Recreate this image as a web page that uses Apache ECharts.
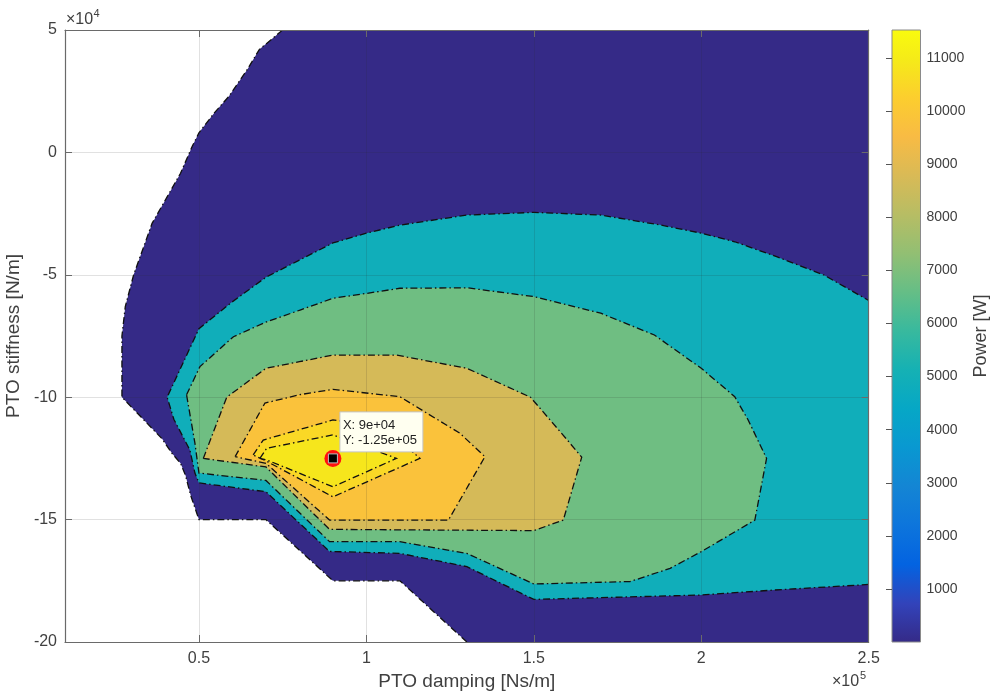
<!DOCTYPE html>
<html>
<head>
<meta charset="utf-8">
<script src="https://cdn.jsdelivr.net/npm/echarts@6/dist/echarts.min.js"></script>
<style>
  html, body { margin: 0; padding: 0; background: #ffffff; }
  #chart { width: 990px; height: 693px; }
</style>
</head>
<body>
<div id="chart"></div>
<script>
// ---- axes ----
const dampingRange = [10000, 250000];          // PTO damping [Ns/m]
const stiffnessRange = [-200000, 50000];       // PTO stiffness [N/m]
const powerRange = [0, 11530];                 // Power [W]
const dampingTicks = [50000, 100000, 150000, 200000, 250000];
const stiffnessTicks = [50000, 0, -50000, -100000, -150000, -200000];
const powerTicks = [1000, 2000, 3000, 4000, 5000, 6000, 7000, 8000, 9000, 10000, 11000];

// ---- filled contours: level [W] and outline of the area above it, [damping, stiffness] ----
const powerLevels = [0, 4900, 6750, 8700, 9800, 10500, 10850];

const region0 = [[75000, 50000], [250000, 50000], [250000, -200000], [130000, -200000], [110000, -175000],
  [90000, -175000], [70000, -150000], [50000, -150000], [47500, -140000], [46000, -132000], [44500, -127000],
  [42000, -123000], [39000, -117000], [27000, -100000], [27000, -75000], [28000, -63000], [30500, -50000],
  [36000, -29000], [44500, -8500], [48000, 2500], [50000, 8000], [54500, 16000], [59000, 23000],
  [64500, 34000], [68000, 42000]];

const region1 = [[40500, -100000], [50000, -72000], [59500, -61500], [70000, -51000], [80000, -44000],
  [90000, -37000], [100000, -33000], [110000, -29700], [130000, -25600], [150000, -24500], [170000, -25600],
  [188000, -29700], [200000, -33000], [210000, -36500], [222500, -42600], [236500, -50000], [250000, -60500],
  [250000, -176500], [221500, -178800], [200000, -180800], [150000, -182600], [130000, -169200],
  [110000, -163800], [89000, -163000], [70000, -138600], [50000, -135000], [48800, -131000],
  [47300, -121600], [42500, -109000]];

const region2 = [[46300, -99000], [50300, -87500], [60300, -75300], [70200, -69200], [80200, -64400],
  [90000, -59600], [100000, -57600], [110000, -55500], [130000, -55300], [150000, -58900], [170000, -65700],
  [186000, -74600], [200000, -88200], [210000, -99800], [214000, -109300], [219500, -125000],
  [216000, -150200], [200000, -163100], [190700, -169900], [181700, -174000], [178700, -175300],
  [150000, -176300], [130000, -163800], [110000, -159000], [89000, -159000], [70000, -134000],
  [50000, -131000], [48800, -118800]];

const region3 = [[51300, -125000], [58300, -100000], [70000, -88200], [80000, -85500], [90000, -82800],
  [109000, -82800], [130000, -88200], [149000, -100000], [160000, -117500], [164300, -124500],
  [158800, -150200], [150000, -154500], [89000, -154000], [70000, -128500]];

const region4 = [[60800, -124300], [69700, -102400], [80000, -99000], [90000, -96800], [110000, -99800],
  [127900, -114700], [135400, -124300], [124500, -150200], [89000, -150200], [70000, -127000]];

const region5 = [[66200, -123600], [69200, -117500], [90000, -109300], [105000, -112000], [116000, -125000],
  [90000, -140700], [70000, -126000]];

const region6 = [[68200, -125000], [70200, -120900], [90000, -115400], [109000, -125000], [90000, -136600],
  [70000, -125500]];

const contourRegions = [region0, region1, region2, region3, region4, region5, region6];

// ---- marked optimum ----
const peakPoint = [90000, -125000];

// parula colormap stops
const parula = [
  [0 / 63, '#352A87'], [4 / 63, '#3243BA'], [8 / 63, '#0363E1'], [12 / 63, '#0D75DC'],
  [16 / 63, '#1485D4'], [20 / 63, '#0998D1'], [24 / 63, '#06A7C6'], [28 / 63, '#15B1B4'],
  [32 / 63, '#38B99E'], [36 / 63, '#65BE86'], [40 / 63, '#92BF73'], [44 / 63, '#B7BD64'],
  [48 / 63, '#D9BA56'], [52 / 63, '#F8BB44'], [56 / 63, '#FCCE2E'], [60 / 63, '#F5EB18'],
  [63 / 63, '#F9FB0E']
];

function hexRgb(h) {
  return [parseInt(h.slice(1, 3), 16), parseInt(h.slice(3, 5), 16), parseInt(h.slice(5, 7), 16)];
}
function parulaColor(value) {
  let t = (value - powerRange[0]) / (powerRange[1] - powerRange[0]);
  t = Math.max(0, Math.min(1, t));
  for (let i = 1; i < parula.length; i++) {
    if (t <= parula[i][0]) {
      const f = (t - parula[i - 1][0]) / (parula[i][0] - parula[i - 1][0]);
      const a = hexRgb(parula[i - 1][1]), b = hexRgb(parula[i][1]);
      const c = a.map((v, k) => Math.round(v + (b[k] - v) * f));
      return 'rgb(' + c.join(',') + ')';
    }
  }
  return parula[parula.length - 1][1];
}

// an outline edge lying on the plot frame is not a contour line
function onFrame(a, b) {
  if (a[0] === b[0] && (a[0] === dampingRange[0] || a[0] === dampingRange[1])) return true;
  if (a[1] === b[1] && (a[1] === stiffnessRange[0] || a[1] === stiffnessRange[1])) return true;
  return false;
}

const dashDot = [7, 3, 1.5, 3];

function renderContour(params, api) {
  const poly = contourRegions[params.dataIndex];
  const level = powerLevels[params.dataIndex];
  const pts = poly.map(p => api.coord(p));
  const children = [{
    type: 'polygon',
    shape: { points: pts },
    style: { fill: parulaColor(level), stroke: null }
  }];
  const n = poly.length;
  const start = poly.findIndex((p, i) => onFrame(p, poly[(i + 1) % n]));
  const runs = [];
  if (start < 0) {
    runs.push(pts.concat([pts[0]]));
  } else {
    let cur = null;
    for (let k = 1; k <= n; k++) {
      const i = (start + k) % n;
      const a = poly[i], b = poly[(i + 1) % n];
      if (onFrame(a, b)) {
        if (cur) { runs.push(cur); cur = null; }
      } else {
        if (!cur) cur = [api.coord(a)];
        cur.push(api.coord(b));
      }
    }
    if (cur) runs.push(cur);
  }
  runs.forEach(r => children.push({
    type: 'polyline',
    shape: { points: r },
    style: { fill: null, stroke: '#111111', lineWidth: 1.3, lineDash: dashDot }
  }));
  return { type: 'group', children: children };
}

function expLabel(v) {
  return v.toExponential().replace(/e([+-])(\d)$/, 'e$10$2');
}

function renderTip(params, api) {
  const x = api.value(0), y = api.value(1);
  const c = api.coord([x, y]);
  const font = '13px "Liberation Sans", Arial, sans-serif';
  return {
    type: 'group',
    children: [
      { type: 'circle', shape: { cx: c[0], cy: c[1], r: 8.5 }, style: { fill: '#ff1010' } },
      { type: 'rect', shape: { x: c[0] - 4.5, y: c[1] - 4.5, width: 9, height: 9 },
        style: { fill: '#000000', stroke: '#bdbdbd', lineWidth: 1 } },
      { type: 'rect', shape: { x: c[0] + 7, y: c[1] - 46.5, width: 83, height: 40 },
        style: { fill: '#fffff0', stroke: '#c4c4c4', lineWidth: 1 } },
      { type: 'text', x: c[0] + 10, y: c[1] - 33,
        style: { text: 'X: ' + expLabel(x), font: font, fill: '#222222', align: 'left', verticalAlign: 'middle' } },
      { type: 'text', x: c[0] + 10, y: c[1] - 18,
        style: { text: 'Y: ' + expLabel(y), font: font, fill: '#222222', align: 'left', verticalAlign: 'middle' } }
    ]
  };
}

function renderColorbar(params, api) {
  const p0 = api.coord([0, powerRange[1]]);
  const p1 = api.coord([1, powerRange[0]]);
  return {
    type: 'rect',
    shape: { x: p0[0], y: p0[1], width: p1[0] - p0[0], height: p1[1] - p0[1] },
    style: {
      fill: new echarts.graphic.LinearGradient(0, 1, 0, 0,
        parula.map(s => ({ offset: s[0], color: s[1] }))),
      stroke: '#8a8a8a', lineWidth: 1
    }
  };
}

const FONT = '"Liberation Sans", Arial, Helvetica, sans-serif';
const TXT = '#404040';
const AXIS = '#6a6a6a';

const chart = echarts.init(document.getElementById('chart'), null, { renderer: 'canvas' });

chart.setOption({
  animation: false,
  backgroundColor: '#ffffff',
  textStyle: { fontFamily: FONT },
  grid: [
    { left: 65, top: 30, right: 121.3, bottom: 51, containLabel: false, outerBoundsMode: 'none' },
    { left: 892, top: 30, width: 28.5, bottom: 51, containLabel: false, outerBoundsMode: 'none' }
  ],
  xAxis: [
    {
      gridIndex: 0, type: 'value', min: dampingRange[0], max: dampingRange[1], position: 'bottom', z: 10,
      axisLine: { show: true, onZero: false, lineStyle: { color: AXIS, width: 1.2 } },
      axisTick: { show: true, inside: true, length: 7, customValues: dampingTicks, lineStyle: { color: AXIS } },
      axisLabel: { customValues: dampingTicks, fontSize: 16, color: TXT, margin: 9,
        formatter: v => String(+(v / 1e5).toFixed(2)) },
      splitLine: { show: false },
      name: 'PTO damping [Ns/m]', nameLocation: 'middle', nameGap: 27,
      nameTextStyle: { fontSize: 19, color: TXT }
    },
    {
      gridIndex: 0, type: 'value', min: dampingRange[0], max: dampingRange[1], position: 'top', z: 10,
      axisLine: { show: true, onZero: false, lineStyle: { color: AXIS, width: 1.2 } },
      axisTick: { show: true, inside: true, length: 7, customValues: dampingTicks, lineStyle: { color: AXIS } },
      axisLabel: { show: false },
      splitLine: { show: false }
    },
    { gridIndex: 1, type: 'value', min: 0, max: 1, show: false }
  ],
  yAxis: [
    {
      gridIndex: 0, type: 'value', min: stiffnessRange[0], max: stiffnessRange[1], interval: 50000,
      position: 'left', z: 10,
      axisLine: { show: true, onZero: false, lineStyle: { color: AXIS, width: 1.2 } },
      axisTick: { show: true, inside: true, length: 7, lineStyle: { color: AXIS } },
      axisLabel: { fontSize: 16, color: TXT, margin: 8, formatter: v => String(v / 1e4) },
      splitLine: { show: false },
      name: 'PTO stiffness [N/m]', nameLocation: 'middle', nameGap: 33, nameRotate: 90,
      nameTextStyle: { fontSize: 19, color: TXT }
    },
    {
      gridIndex: 0, type: 'value', min: stiffnessRange[0], max: stiffnessRange[1], interval: 50000,
      position: 'right', z: 10,
      axisLine: { show: true, onZero: false, lineStyle: { color: AXIS, width: 1.2 } },
      axisTick: { show: true, inside: true, length: 7, lineStyle: { color: AXIS } },
      axisLabel: { show: false },
      splitLine: { show: false }
    },
    {
      gridIndex: 1, type: 'value', min: powerRange[0], max: powerRange[1], position: 'right', z: 10,
      axisLine: { show: false },
      axisTick: { show: true, inside: true, length: 6, customValues: powerTicks, lineStyle: { color: '#555555' } },
      axisLabel: { customValues: powerTicks, fontSize: 14, color: TXT, margin: 6, formatter: v => String(v) },
      splitLine: { show: false },
      name: 'Power [W]', nameLocation: 'middle', nameGap: 52, nameRotate: 90,
      nameTextStyle: { fontSize: 18, color: TXT }
    }
  ],
  graphic: [
    { type: 'text', x: 66, y: 20, style: { text: '×10', font: '16px ' + FONT, fill: TXT, align: 'left', verticalAlign: 'middle' } },
    { type: 'text', x: 93.5, y: 14, style: { text: '4', font: '11px ' + FONT, fill: TXT, align: 'left', verticalAlign: 'middle' } },
    { type: 'text', x: 832, y: 682, style: { text: '×10', font: '16px ' + FONT, fill: TXT, align: 'left', verticalAlign: 'middle' } },
    { type: 'text', x: 860, y: 676, style: { text: '5', font: '11px ' + FONT, fill: TXT, align: 'left', verticalAlign: 'middle' } }
  ],
  series: [
    {
      type: 'custom', name: 'Power', xAxisIndex: 0, yAxisIndex: 0, z: 2, clip: true,
      renderItem: renderContour,
      data: contourRegions.map((r, i) => ({ value: [r[0][0], r[0][1], powerLevels[i]] })),
      markLine: {
        silent: true, symbol: ['none', 'none'], z: 5, animation: false,
        label: { show: false },
        lineStyle: { color: 'rgba(40,40,40,0.14)', width: 1, type: 'solid' },
        data: dampingTicks.map(v => ({ xAxis: v })).concat(stiffnessTicks.map(v => ({ yAxis: v })))
      }
    },
    {
      type: 'custom', name: 'Optimum', xAxisIndex: 0, yAxisIndex: 0, z: 20,
      renderItem: renderTip,
      data: [peakPoint]
    },
    {
      type: 'custom', name: 'Colorbar', xAxisIndex: 2, yAxisIndex: 2, z: 2,
      renderItem: renderColorbar,
      data: [[0, powerRange[0]]]
    }
  ]
});
</script>
</body>
</html>
